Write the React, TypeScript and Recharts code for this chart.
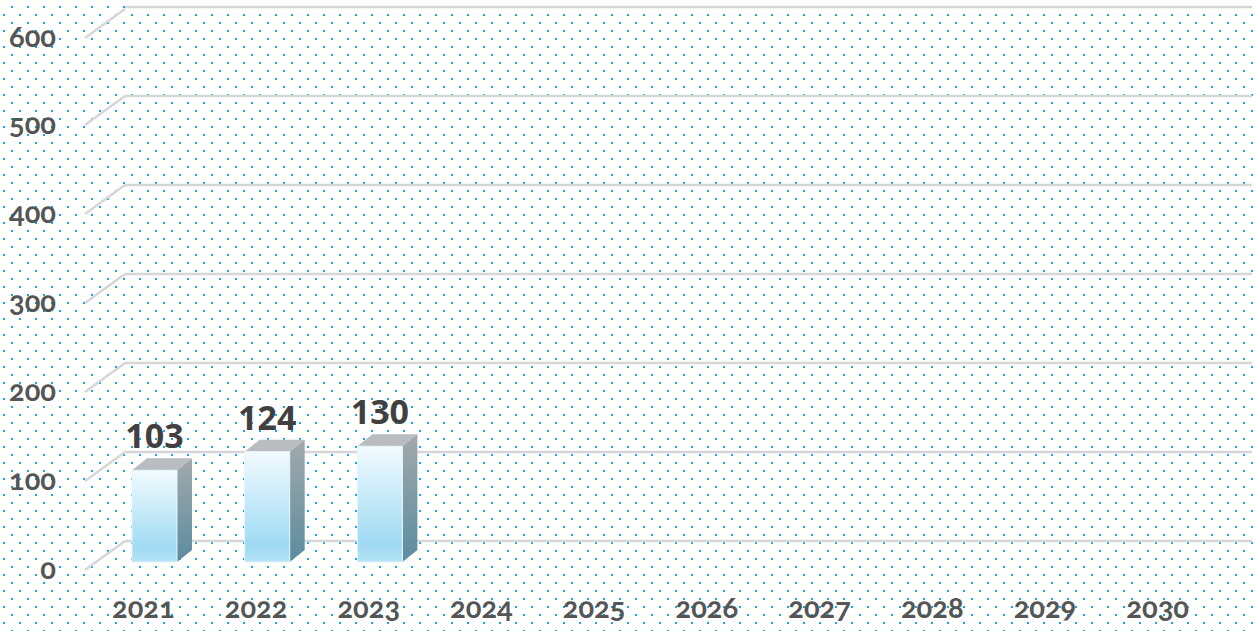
import { BarChart, Bar, XAxis, YAxis, CartesianGrid, LabelList } from "recharts"

const years = ["2021", "2022", "2023", "2024", "2025", "2026", "2027", "2028", "2029", "2030"]
const values: (number | null)[] = [103, 124, 130, null, null, null, null, null, null, null]
const yTicks = [0, 100, 200, 300, 400, 500, 600]

const data = years.map((year, i) => ({ year, value: values[i] }))

// layout of the back wall, and the fake 3d offsets
const PLOT_LEFT = 125
const PLOT_BOTTOM = 541
const DX = -27 // front face shift from back wall
const DY = 21
const DEPTH_X = 15
const DEPTH_Y = -12

const dots =
  "url(\"data:image/svg+xml;utf8,<svg xmlns='http://www.w3.org/2000/svg' width='16' height='16'><rect x='11' y='6' width='2' height='2' fill='%2312aae6'/><rect x='3' y='14' width='2' height='2' fill='%2312aae6'/></svg>\")"

const axisFont = "Lato, 'Open Sans', sans-serif"

function YTick(props: any) {
  const { y, payload } = props
  return (
    <g>
      <line x1={PLOT_LEFT} y1={y} x2={PLOT_LEFT - 40} y2={y + 29} stroke="#d6d6d6" strokeWidth={2.5} />
      <text
        x={56}
        y={y + 31}
        textAnchor="end"
        dominantBaseline="middle"
        fill="#555555"
        fontSize={29}
        fontWeight={700}
        fontFamily={axisFont}
        style={{ fontVariantNumeric: "oldstyle-nums" }}
      >
        {payload.value}
      </text>
    </g>
  )
}

function XTick(props: any) {
  const { x, payload } = props
  return (
    <text
      x={x - 38}
      y={PLOT_BOTTOM + 70}
      textAnchor="middle"
      dominantBaseline="middle"
      fill="#555555"
      fontSize={29}
      fontWeight={700}
      fontFamily={axisFont}
      style={{ fontVariantNumeric: "oldstyle-nums" }}
    >
      {payload.value}
    </text>
  )
}

function Bar3D(props: any) {
  const { x, y, width, height } = props
  if (!height || height <= 0) return null
  const fx = x + DX
  const fy = y + DY
  const fr = fx + width
  const fb = fy + height
  return (
    <g>
      <defs>
        <linearGradient id="barFront" x1="0" y1="0" x2="0" y2="1">
          <stop offset="0%" stopColor="#f2fbff" />
          <stop offset="85%" stopColor="#9fdaf3" />
          <stop offset="100%" stopColor="#b4e3f6" />
        </linearGradient>
        <linearGradient id="barSide" x1="0" y1="0" x2="0" y2="1">
          <stop offset="0%" stopColor="#a2a9ad" />
          <stop offset="100%" stopColor="#5b8c9f" />
        </linearGradient>
      </defs>
      <polygon
        points={`${fx},${fy} ${fr},${fy} ${fr + DEPTH_X},${fy + DEPTH_Y} ${fx + DEPTH_X},${fy + DEPTH_Y}`}
        fill="#b9bdbf"
      />
      <polygon
        points={`${fr},${fy} ${fr + DEPTH_X},${fy + DEPTH_Y} ${fr + DEPTH_X},${fb + DEPTH_Y} ${fr},${fb}`}
        fill="url(#barSide)"
      />
      <rect x={fx} y={fy} width={width} height={height} fill="url(#barFront)" stroke="#e4f5fc" strokeWidth={1} />
    </g>
  )
}

function ValueLabel(props: any) {
  const { x, y, width, value } = props
  if (value == null) return null
  return (
    <text
      x={x + width / 2 + DX}
      y={y + DY - 22}
      textAnchor="middle"
      fill="#404040"
      fontSize={34}
      fontWeight={700}
      fontFamily="'Open Sans', sans-serif"
    >
      {value}
    </text>
  )
}

export default function App() {
  return (
    <div style={{ width: 1256, height: 631, backgroundImage: dots, backgroundColor: "#ffffff" }}>
      <style>{"body{margin:0}"}</style>
      <BarChart width={1256} height={631} data={data} margin={{ top: 7, right: 4, left: 0, bottom: 0 }}>
        <CartesianGrid vertical={false} stroke="#d6d6d6" strokeWidth={2.5} />
        <XAxis dataKey="year" height={90} axisLine={false} tickLine={false} interval={0} tick={<XTick />} />
        <YAxis
          width={125}
          domain={[0, 600]}
          ticks={yTicks}
          axisLine={false}
          tickLine={false}
          tick={<YTick />}
        />
        <Bar dataKey="value" barSize={45} shape={<Bar3D />} isAnimationActive={false}>
          <LabelList dataKey="value" content={<ValueLabel />} />
        </Bar>
      </BarChart>
    </div>
  )
}
